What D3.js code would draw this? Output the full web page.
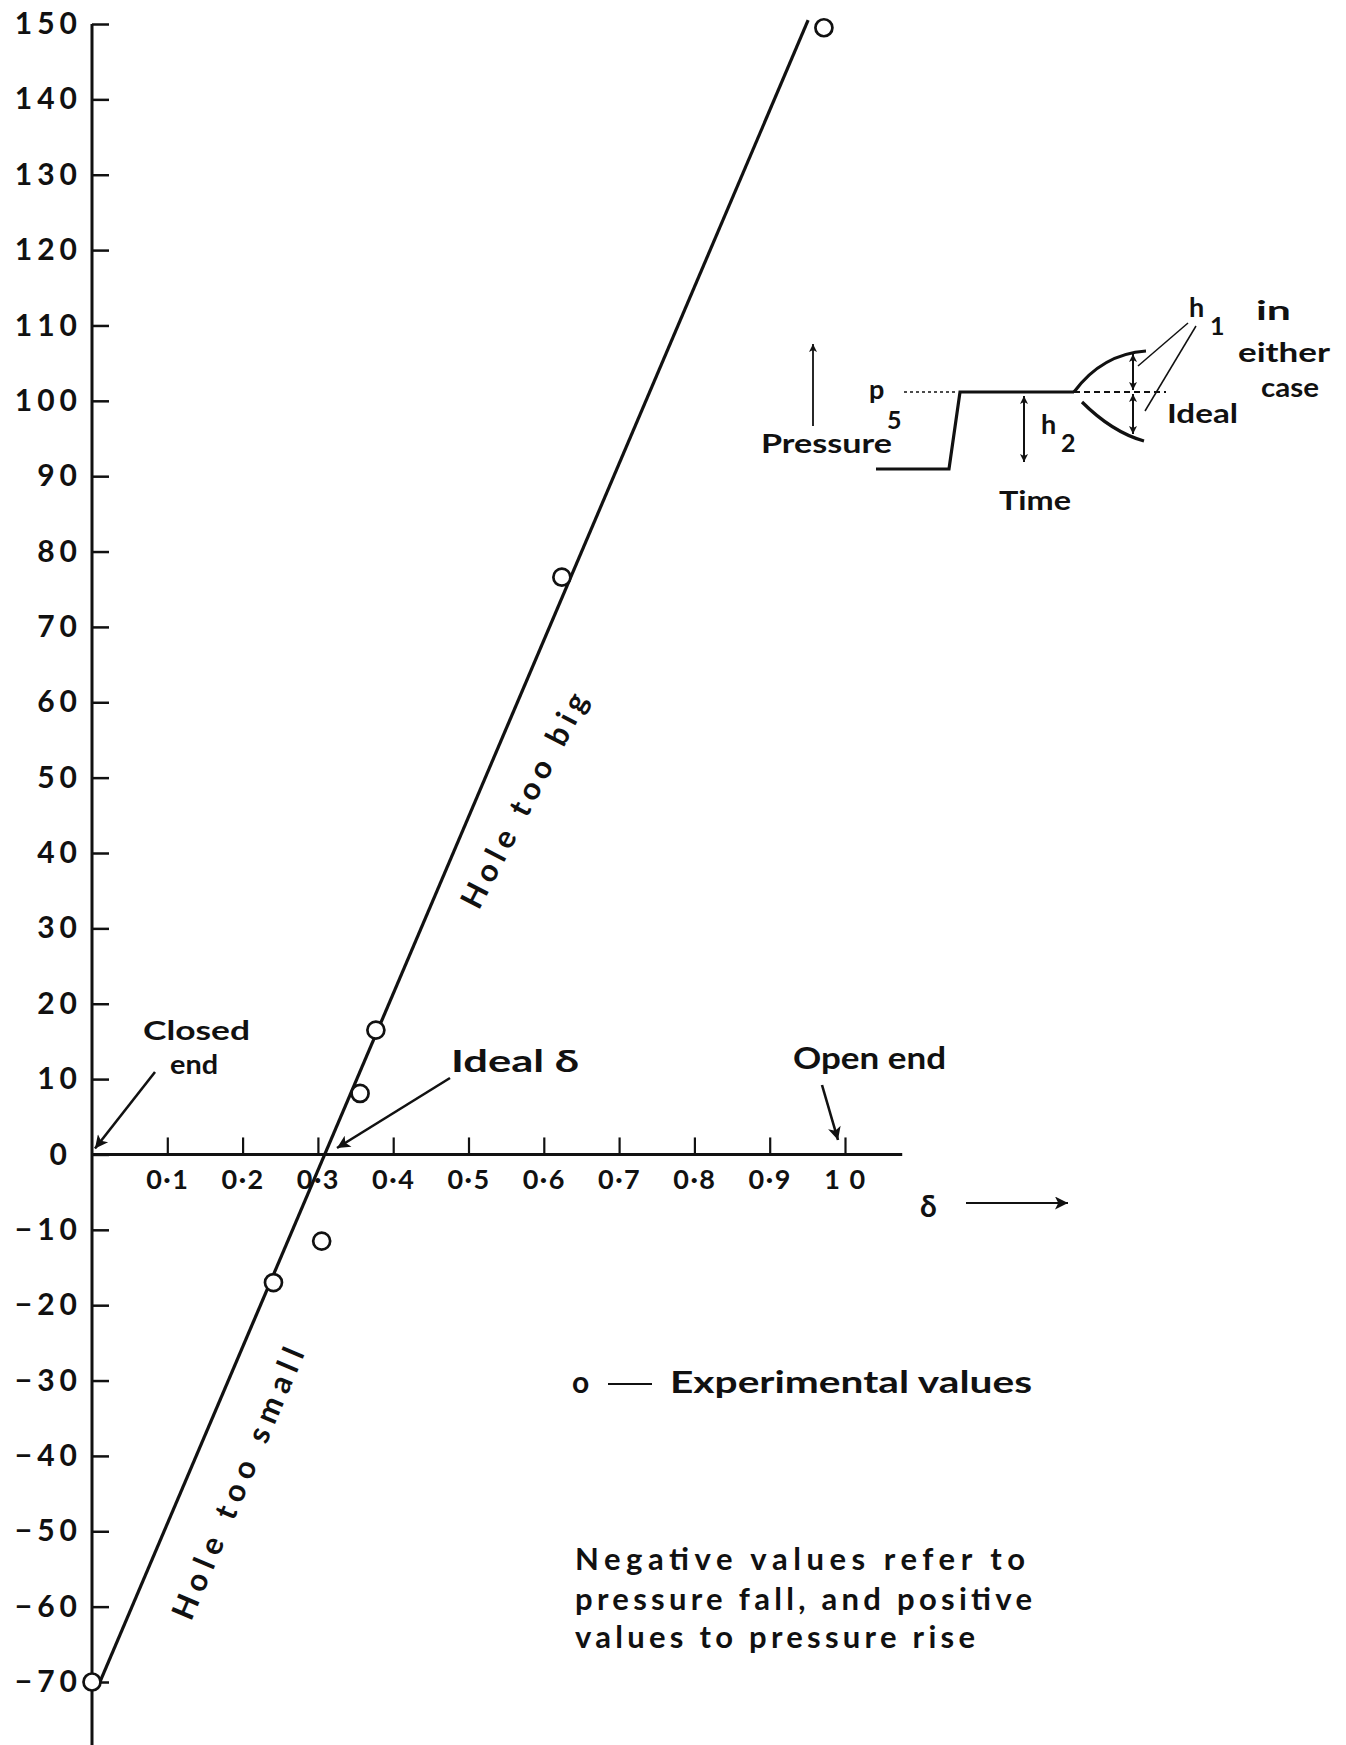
<!DOCTYPE html>
<html>
<head>
<meta charset="utf-8">
<script src="https://cdn.jsdelivr.net/npm/d3@7"></script>
<style>
  html, body { margin: 0; padding: 0; background: #fff; }
  svg text { font-family: Lato, "DejaVu Sans", sans-serif; font-weight: bold; fill: #111; }
</style>
</head>
<body>
<svg id="chart" width="1346" height="1745"></svg>
<script>
// Experimental runs: orifice parameter δ and the resulting pressure change (%)
const deltaValues    = [0, 0.241, 0.305, 0.356, 0.377, 0.624, 0.972];
const pressureValues = [-70, -17, -11.5, 8.1, 16.5, 76.6, 149.5];

// End points of the fitted straight line
const fitDelta    = [0.01, 0.951];
const fitPressure = [-70.1, 150.5];

// Axis ticks and their printed labels
const yTicks      = [150, 140, 130, 120, 110, 100, 90, 80, 70, 60, 50, 40, 30, 20, 10, 0,
                     -10, -20, -30, -40, -50, -60, -70];
const yTickLabels = ["150", "140", "130", "120", "110", "100", "90", "80", "70", "60", "50",
                     "40", "30", "20", "10", "0", "−10", "−20", "−30", "−40", "−50", "−60", "−70"];
const xTicks      = [0.1, 0.2, 0.3, 0.4, 0.5, 0.6, 0.7, 0.8, 0.9, 1.0];
const xTickLabels = ["0·1", "0·2", "0·3", "0·4", "0·5", "0·6", "0·7", "0·8", "0·9", "1 0"];

const ink = "#111";
const svg = d3.select("#chart");

const x = d3.scaleLinear().domain([0, 1]).range([92, 845]);
const y = d3.scaleLinear().domain([-70, 150]).range([1682, 24]);

// ---------- arrow heads ----------
const defs = svg.append("defs");
function addHead(id, w, h) {
  defs.append("marker")
    .attr("id", id)
    .attr("viewBox", "0 0 10 10")
    .attr("refX", 10).attr("refY", 5)
    .attr("markerUnits", "userSpaceOnUse")
    .attr("markerWidth", w).attr("markerHeight", h)
    .attr("orient", "auto-start-reverse")
    .append("path")
    .attr("d", "M0,0 L10,5 L0,10 L2.5,5 Z")
    .attr("fill", ink);
}
addHead("head", 20, 13);
addHead("headSmall", 11, 8);

// ---------- axes ----------
const yAxis = d3.axisLeft(y)
  .tickValues(yTicks)
  .tickFormat((d, i) => yTickLabels[i])
  .tickSizeInner(-17)
  .tickSizeOuter(0)
  .tickPadding(10);

const gy = svg.append("g")
  .attr("transform", `translate(${x(0)},0)`)
  .call(yAxis);
gy.select(".domain").remove();
gy.selectAll(".tick line").attr("stroke", ink).attr("stroke-width", 2.5);
gy.selectAll(".tick text")
  .style("font-size", "30px")
  .attr("letter-spacing", 5)
  .attr("fill", ink);
gy.selectAll(".tick text").filter(d => d === 0).attr("x", -20);

svg.append("line")
  .attr("x1", x(0)).attr("x2", x(0))
  .attr("y1", y(150)).attr("y2", 1745)
  .attr("stroke", ink).attr("stroke-width", 3);

const xAxis = d3.axisBottom(x)
  .tickValues(xTicks)
  .tickFormat((d, i) => xTickLabels[i])
  .tickSizeInner(-17)
  .tickSizeOuter(0)
  .tickPadding(15);

const gx = svg.append("g")
  .attr("transform", `translate(0,${y(0)})`)
  .call(xAxis);
gx.select(".domain").remove();
gx.selectAll(".tick line").attr("stroke", ink).attr("stroke-width", 2.2);
gx.selectAll(".tick text")
  .style("font-size", "27px")
  .attr("letter-spacing", 1.5)
  .attr("fill", ink);

svg.append("line")
  .attr("x1", x(0)).attr("x2", x(1.076))
  .attr("y1", y(0)).attr("y2", y(0))
  .attr("stroke", ink).attr("stroke-width", 3);

// δ axis title with its arrow
svg.append("text").attr("x", 920).attr("y", 1217).style("font-size", "30px").text("δ");
svg.append("line")
  .attr("x1", 966).attr("y1", 1203).attr("x2", 1068).attr("y2", 1203)
  .attr("stroke", ink).attr("stroke-width", 2)
  .attr("marker-end", "url(#head)");

// ---------- fitted line and experimental points ----------
svg.append("path")
  .datum(d3.zip(fitDelta, fitPressure))
  .attr("d", d3.line().x(d => x(d[0])).y(d => y(d[1])))
  .attr("fill", "none")
  .attr("stroke", ink)
  .attr("stroke-width", 3.2);

svg.append("g")
  .selectAll("circle")
  .data(d3.zip(deltaValues, pressureValues))
  .join("circle")
  .attr("cx", d => x(d[0]))
  .attr("cy", d => y(d[1]))
  .attr("r", 8.5)
  .attr("fill", "#fff")
  .attr("stroke", ink)
  .attr("stroke-width", 2.7);

// ---------- labels along the line ----------
function rotated(cx, cy, angle, len, txt) {
  svg.append("text")
    .attr("transform", `translate(${cx},${cy}) rotate(${angle})`)
    .attr("text-anchor", "middle")
    .attr("dominant-baseline", "central")
    .attr("textLength", len)
    .attr("lengthAdjust", "spacing")
    .style("font-size", "31px")
    .text(txt);
}
rotated(523, 800, -62.5, 238, "Hole too big");
rotated(237, 1483, -67, 292, "Hole too small");

// ---------- callouts ----------
function label(tx, ty, len, txt, size) {
  svg.append("text")
    .attr("x", tx).attr("y", ty)
    .attr("textLength", len)
    .attr("lengthAdjust", "spacingAndGlyphs")
    .style("font-size", (size || 29) + "px")
    .text(txt);
}
function arrow(x1, y1, x2, y2, w, head) {
  svg.append("line")
    .attr("x1", x1).attr("y1", y1).attr("x2", x2).attr("y2", y2)
    .attr("stroke", ink).attr("stroke-width", w)
    .attr("marker-end", `url(#${head})`);
}

label(143, 1040, 107, "Closed", 27);
label(170, 1074, 48, "end", 27);
arrow(155, 1072, x(0) + 3, y(0) - 6, 2.6, "head");

label(451, 1072, 128, "Ideal  δ", 30);
arrow(450, 1078, 337, 1148, 2.6, "head");

label(793, 1069, 153, "Open end", 30);
arrow(822, 1085, 838, 1140, 2.6, "head");

// ---------- legend and note ----------
svg.append("text").attr("x", 572).attr("y", 1393).style("font-size", "30px").text("o");
svg.append("line")
  .attr("x1", 608).attr("x2", 652).attr("y1", 1384).attr("y2", 1384)
  .attr("stroke", ink).attr("stroke-width", 2.2);
label(670, 1393, 362, "Experimental values", 30);

const noteLines = ["Negative values refer to", "pressure fall, and positive", "values to pressure rise"];
const noteBase = [1570, 1610, 1648];
const noteLen = [450, 457, 400];
noteLines.forEach((t, i) => {
  svg.append("text")
    .attr("x", 575).attr("y", noteBase[i])
    .attr("textLength", noteLen[i])
    .attr("lengthAdjust", "spacing")
    .style("font-size", "31px")
    .text(t);
});

// ---------- inset: pressure record against time ----------
const inset = svg.append("g").attr("transform", "translate(876,392)");
const sketch = (d, w, dash, mStart, mEnd) => {
  const p = inset.append("path")
    .attr("d", d).attr("fill", "none")
    .attr("stroke", ink).attr("stroke-width", w);
  if (dash) p.attr("stroke-dasharray", dash);
  if (mStart) p.attr("marker-start", "url(#headSmall)");
  if (mEnd) p.attr("marker-end", "url(#headSmall)");
};
// pressure axis arrow
sketch("M-63,34 V-48", 1.8, null, false, true);
// record: step up to p5, plateau, then rise or fall
sketch("M0,77 H73 L84,0 H198", 3.2);
sketch("M198,0 Q226,-38 270,-41", 3.2);
sketch("M206,10 Q236,40 268,49", 3.2);
// ideal level and p5 reference
sketch("M198,0 H290", 1.8, "6,4");
sketch("M28,0 H81", 1.6, "3,3");
// h1 and h2 dimension arrows
sketch("M257,-2 V-38", 2, null, true, true);
sketch("M257,2 V42", 2, null, true, true);
sketch("M148,4 V70", 2, null, true, true);
// leaders from the h1 label
sketch("M312,-69 L262,-26", 1.5);
sketch("M320,-66 L269,19", 1.5);

const insetText = (tx, ty, txt, size, len) => {
  const t = svg.append("text").attr("x", tx).attr("y", ty)
    .style("font-size", size + "px").text(txt);
  if (len) t.attr("textLength", len).attr("lengthAdjust", "spacingAndGlyphs");
};
insetText(761, 453, "Pressure", 27, 131);
insetText(869, 399, "p", 27);
insetText(887, 429, "5", 25);
insetText(1041, 434, "h", 27);
insetText(1061, 452, "2", 25);
insetText(999, 510, "Time", 27, 72);
insetText(1189, 317, "h", 27);
insetText(1210, 335, "1", 25);
insetText(1256, 320, "in", 27, 35);
insetText(1238, 362, "either", 27, 92);
insetText(1261, 397, "case", 27, 58);
insetText(1167, 423, "Ideal", 27, 71);
</script>
</body>
</html>
